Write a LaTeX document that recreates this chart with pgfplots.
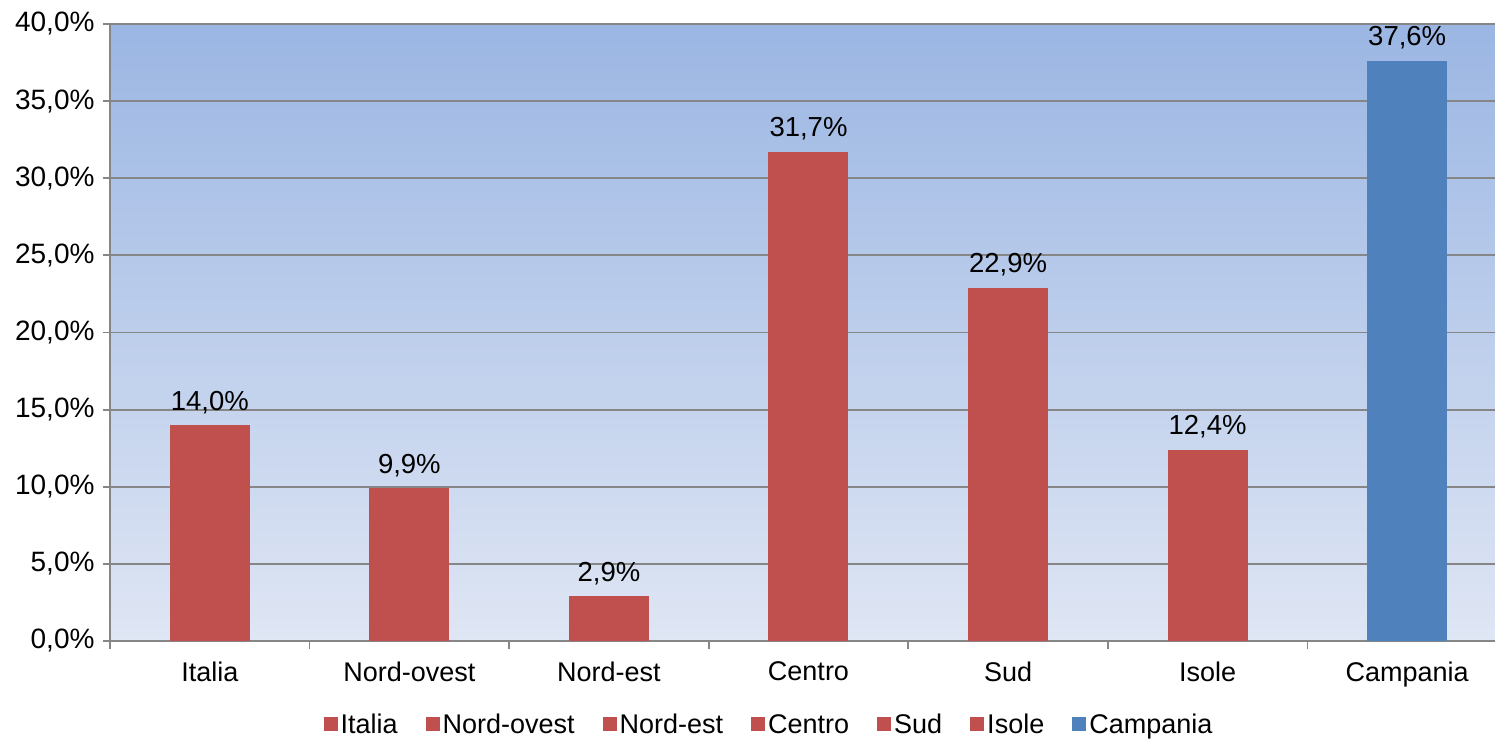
\documentclass[border=0pt]{standalone}
\usepackage{fontspec}
\setmainfont{Liberation Sans}
\usepackage{pgfplots}
\pgfplotsset{compat=1.18}
\definecolor{barred}{HTML}{C0504D}
\definecolor{barblue}{HTML}{4F81BD}
\definecolor{gridgray}{HTML}{868686}
\definecolor{bgtop}{HTML}{9BB6E3}
\definecolor{bgbot}{HTML}{DFE6F4}
\begin{document}
\begin{tikzpicture}
\begin{axis}[
  scale only axis, width=1397bp, height=617bp,
  anchor=south west, at={(0,0)},
  ybar, bar width=80bp, bar shift=0pt,
  xmin=-0.5, xmax=6.5, ymin=0, ymax=40,
  /pgf/number format/assume math mode=true,
  font=\fontsize{27bp}{31bp}\selectfont,
  axis background/.style={top color=bgtop, bottom color=bgbot},
  axis lines*=left,
  axis line style={-, gridgray, line width=1.8bp},
  ymajorgrids, grid style={gridgray, line width=1.8bp},
  tick align=outside,
  xtick={0,...,6},
  xticklabels={Italia,Nord-ovest,Nord-est,Centro,Sud,Isole,Campania},
  major x tick style={draw=none},
  minor xtick={-0.5,0.5,...,6.5},
  minor x tick style={gridgray, line width=1.8bp},
  minor tick length=8bp,
  xticklabel style={yshift=-10bp},
  ytick={0,5,...,40},
  major tick length=7bp,
  y tick style={gridgray, line width=1.8bp},
  yticklabel={\pgfmathprintnumber[fixed,fixed zerofill,precision=1,use comma]{\tick}\%},
  yticklabel style={xshift=-5bp, font=\fontsize{28bp}{32bp}\selectfont},
  nodes near coords={\pgfmathprintnumber[fixed,fixed zerofill,precision=1,use comma]{\pgfplotspointmeta}\%},
  nodes near coords style={yshift=8bp, text=black, font=\fontsize{27.5bp}{31bp}\selectfont},
  legend columns=7,
  legend style={draw=none, fill=none, at={(0.4717,-0.1394)}, anchor=center,
    font=\fontsize{27bp}{31bp}\selectfont,
    nodes={inner xsep=2bp, text depth=0.22em, text height=0.75em},
    /tikz/every even column/.append style={column sep=26bp},
    /tikz/every odd column/.append style={column sep=1bp}},
  legend image code/.code={\fill[#1] (0bp,0bp) rectangle (14bp,14bp); \path (0bp,-6bp);},
]
\addplot[fill=barred, draw=none] coordinates {(0,14.0)}; \addlegendentry{Italia}
\addplot[fill=barred, draw=none] coordinates {(1,9.9)}; \addlegendentry{Nord-ovest}
\addplot[fill=barred, draw=none] coordinates {(2,2.9)}; \addlegendentry{Nord-est}
\addplot[fill=barred, draw=none] coordinates {(3,31.7)}; \addlegendentry{Centro}
\addplot[fill=barred, draw=none] coordinates {(4,22.9)}; \addlegendentry{Sud}
\addplot[fill=barred, draw=none] coordinates {(5,12.4)}; \addlegendentry{Isole}
\addplot[fill=barblue, draw=none] coordinates {(6,37.6)}; \addlegendentry{Campania}
\end{axis}
\pgfresetboundingbox
\path[use as bounding box] (-110bp,-98bp) rectangle (1385bp,641bp);
\end{tikzpicture}
\end{document}
